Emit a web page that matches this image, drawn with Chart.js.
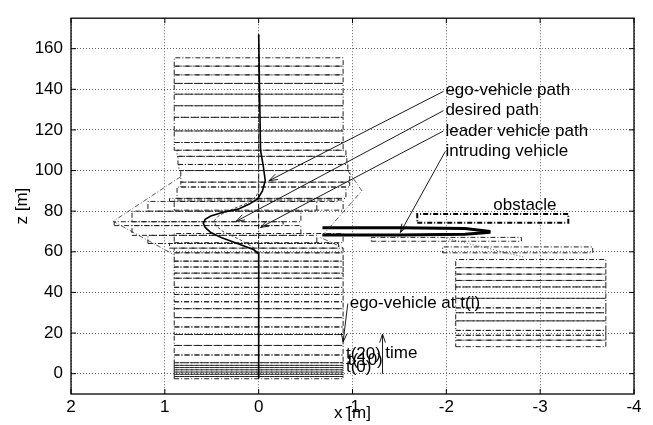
<!DOCTYPE html>
<html>
<head>
<meta charset="utf-8">
<script src="https://cdn.jsdelivr.net/npm/chart.js@4.4.1/dist/chart.umd.min.js"></script>
<style>
  body { margin: 0; background: #fff; }
  #wrap { width: 653px; height: 425px; }
</style>
</head>
<body>
<div id="wrap"><canvas id="myChart" width="653" height="425"></canvas></div>
<script>
// ticks
const xTicks = [2, 1, 0, -1, -2, -3, -4];
const zTicks = [0, 20, 40, 60, 80, 100, 120, 140, 160];

// paths (x lateral, z longitudinal)
const egoPathX = [0, 0, 0.05, 0.22, 0.4, 0.51, 0.57, 0.59, 0.57, 0.51, 0.38, 0.22, 0.1, 0.01, -0.04, -0.07, -0.05, -0.02, 0];
const egoPathZ = [-2, 59, 61, 64, 67, 69.5, 72, 74, 76, 77.6, 79.5, 81, 83.5, 86, 90, 95, 102, 110, 167];
const desiredPathX = [0, 0, 0.05, 0.2, 0.38, 0.46, 0.47, 0.42, 0.28, 0.12, 0.03, 0, 0];
const desiredPathZ = [-2, 58, 62, 66, 70, 73, 75.5, 78, 81, 84, 87, 90, 167];
const leaderPathX = [0, 0];
const leaderPathZ = [-2.5, 167];

// ego-vehicle outlines at t(i): box edges along z and box centre x
const egoEdgesZ = [-2.5, -1.4, -0.3, 0.8, 1.9, 3.0, 4.1, 5.4, 9.2, 13.9, 19.3, 23, 27.6, 32, 35.4, 39, 42.5, 47, 49.5, 52.5, 55.4, 59.5,
  61.8, 64.1, 68.1, 72.9, 74.8, 80, 84.8, 86.3, 91.9, 94.3, 100, 103, 107, 110, 113.8, 119.5, 126.2, 131.9, 137.6, 142.9, 147.1, 151.4, 155.5];
const egoCentreX = [0, 0, 0, 0, 0, 0, 0, 0, 0, 0, 0, 0, 0, 0, 0, 0, 0, 0, 0, 0, 0, 0,
  0.05, 0.28, 0.45, 0.64, 0.45, 0.28, 0.05, -0.03, -0.07, -0.07, -0.05, -0.04, -0.03,
  0, 0, 0, 0, 0, 0, 0, 0, 0];
const egoWidth = 1.8;

// leader vehicle outlines
const leaderX = [0, 0];
const leaderZ0 = [64.5, 80.5];
const leaderZ1 = [69, 85.5];

// swept outline of ego during the manoeuvre
const sweepLeftX = [0.83, 1.55, 0.9];
const sweepLeftZ = [97, 75, 58.5];
const sweepRightX = [-0.95, -1.1, -0.66, -0.9];
const sweepRightZ = [100, 90, 67, 62];

// intruding vehicle outlines
const intruderX = [-2.9, -2.9, -2.9, -2.9, -2.9, -2.9, -2.9, -2.9, -2.9, -2.9, -2.9, -2.9, -2.76, -2.0];
const intruderZ0 = [13.3, 16.5, 18.9, 21.3, 26, 30, 32.4, 37.1, 42.7, 45.9, 49, 52.2, 59.5, 65.2];
const intruderZ1 = [16.5, 18.9, 21.3, 26, 30, 32.4, 37.1, 42.7, 45.9, 49, 52.2, 56.2, 62.4, 67.1];
const intruderWidth = 1.6;
const intruderSweepX = [-1.97, -2.82];
const intruderSweepZ = [67, 57.5];
const cutInTopX = [-0.68, -1.5, -2.2, -2.47];
const cutInTopZ = [71.8, 71.8, 71.5, 70.0];
const cutInBottomX = [-0.68, -1.5, -2.2, -2.47];
const cutInBottomZ = [68.3, 68.3, 68.6, 69.6];

// obstacle
const obstacleX = [-1.69, -3.3];
const obstacleZ = [74.3, 78.6];

// annotations
const arrowFromX = [-1.97, -1.97, -1.97, -1.99, -0.95, -1.32];
const arrowFromZ = [139, 129.5, 119.5, 109.5, 34.5, 0];
const arrowToX = [-0.11, 0.24, -0.02, -1.51, -0.9, -1.32];
const arrowToZ = [95, 75, 72, 69.5, 15.7, 19.5];
const labelText = ['ego-vehicle path', 'desired path', 'leader vehicle path', 'intruding vehicle', 'obstacle',
  'ego-vehicle at t(i)', 'time', 't(20)', 't(10)', 't(0)'];
const labelX = [-1.99, -1.99, -1.99, -1.99, -2.5, -0.97, -1.35, -0.93, -0.95, -0.93];
const labelZ = [139.5, 129.5, 119.5, 109.5, 82.9, 34.8, 10, 9.5, 6.7, 2.9];

const FONT = '"Liberation Sans", Arial, sans-serif';
const dashDot = [5, 2, 1, 2];

function toPoints(xs, zs) {
  return xs.map((x, i) => ({ x: x, y: zs[i] }));
}
function box(cx, z0, z1, w) {
  return [
    { x: cx + w / 2, y: z0 }, { x: cx - w / 2, y: z0 },
    { x: cx - w / 2, y: z1 }, { x: cx + w / 2, y: z1 },
    { x: cx + w / 2, y: z0 }
  ];
}
function lineSet(data, color, width, dash) {
  return { data: data, borderColor: color, borderWidth: width, borderDash: dash || [],
    showLine: true, pointRadius: 0, fill: false, tension: 0 };
}

const datasets = [];
datasets.push(lineSet(toPoints(egoPathX, egoPathZ), '#000', 1.6));
datasets.push(lineSet(toPoints(desiredPathX, desiredPathZ), '#444', 1, [3, 2]));
datasets.push(lineSet(toPoints(leaderPathX, leaderPathZ), '#000', 1, dashDot));
for (let i = 0; i < egoCentreX.length; i++) {
  datasets.push(lineSet(box(egoCentreX[i], egoEdgesZ[i], egoEdgesZ[i + 1], egoWidth), '#222', 1, dashDot));
}
leaderX.forEach((cx, i) => {
  datasets.push(lineSet(box(cx, leaderZ0[i], leaderZ1[i], egoWidth), '#222', 1, dashDot));
});
datasets.push(lineSet(toPoints(sweepLeftX, sweepLeftZ), '#333', 0.8, dashDot));
datasets.push(lineSet(toPoints(sweepRightX, sweepRightZ), '#333', 0.8, dashDot));
intruderX.forEach((cx, i) => {
  datasets.push(lineSet(box(cx, intruderZ0[i], intruderZ1[i], intruderWidth), '#222', 1, dashDot));
});
datasets.push(lineSet(toPoints(intruderSweepX, intruderSweepZ), '#333', 0.8, [1, 2]));
datasets.push(lineSet(toPoints(cutInTopX, cutInTopZ), '#000', 3));
datasets.push(lineSet(toPoints(cutInBottomX, cutInBottomZ), '#000', 3));
datasets.push(lineSet(box((obstacleX[0] + obstacleX[1]) / 2, obstacleZ[0], obstacleZ[1], Math.abs(obstacleX[1] - obstacleX[0])), '#000', 2, dashDot));
arrowFromX.forEach((x, i) => {
  datasets.push(lineSet([{ x: x, y: arrowFromZ[i] }, { x: arrowToX[i], y: arrowToZ[i] }], '#000', 0.9));
});

// arrowheads and text labels
const annotations = {
  id: 'annotations',
  afterDatasetsDraw(chart) {
    const ctx = chart.ctx;
    const xs = chart.scales.x, ys = chart.scales.y;
    ctx.save();
    ctx.strokeStyle = '#000';
    ctx.lineWidth = 0.9;
    arrowFromX.forEach((x, i) => {
      const x1 = xs.getPixelForValue(x), y1 = ys.getPixelForValue(arrowFromZ[i]);
      const x2 = xs.getPixelForValue(arrowToX[i]), y2 = ys.getPixelForValue(arrowToZ[i]);
      const a = Math.atan2(y2 - y1, x2 - x1);
      const len = 9, spread = 0.33;
      ctx.beginPath();
      ctx.moveTo(x2 - len * Math.cos(a - spread), y2 - len * Math.sin(a - spread));
      ctx.lineTo(x2, y2);
      ctx.lineTo(x2 - len * Math.cos(a + spread), y2 - len * Math.sin(a + spread));
      ctx.stroke();
    });
    ctx.fillStyle = '#000';
    ctx.font = '17px ' + FONT;
    ctx.textAlign = 'left';
    ctx.textBaseline = 'middle';
    labelText.forEach((t, i) => {
      ctx.fillText(t, xs.getPixelForValue(labelX[i]), ys.getPixelForValue(labelZ[i]));
    });
    ctx.restore();
  }
};

// box round the plot with inward ticks
const frame = {
  id: 'frame',
  afterDraw(chart) {
    const { ctx, chartArea: a } = chart;
    const xs = chart.scales.x, ys = chart.scales.y;
    ctx.save();
    ctx.strokeStyle = '#000';
    ctx.lineWidth = 1.3;
    ctx.strokeRect(a.left, a.top, a.right - a.left, a.bottom - a.top);
    ctx.lineWidth = 1;
    ctx.beginPath();
    xTicks.forEach(v => {
      const p = xs.getPixelForValue(v);
      ctx.moveTo(p, a.bottom); ctx.lineTo(p, a.bottom - 5);
      ctx.moveTo(p, a.top); ctx.lineTo(p, a.top + 5);
    });
    zTicks.forEach(v => {
      const p = ys.getPixelForValue(v);
      ctx.moveTo(a.left, p); ctx.lineTo(a.left + 5, p);
      ctx.moveTo(a.right, p); ctx.lineTo(a.right - 5, p);
    });
    ctx.stroke();
    ctx.restore();
  }
};

const config = {
  type: 'scatter',
  data: { datasets: datasets },
  options: {
    responsive: false,
    animation: false,
    devicePixelRatio: 1,
    layout: { padding: { top: 7, right: 19, left: 0, bottom: 0 } },
    plugins: { legend: { display: false }, tooltip: { enabled: false } },
    scales: {
      x: {
        type: 'linear', reverse: true, min: -4, max: 2,
        afterBuildTicks: s => { s.ticks = xTicks.map(v => ({ value: v })); },
        afterFit: s => { s.height = 31; },
        grid: { color: 'rgba(0,0,0,0.75)', lineWidth: 0.8, drawTicks: false },
        border: { display: false, dash: [1, 2] },
        ticks: { color: '#000', padding: 3, font: { family: FONT, size: 17 } },
        title: { display: true, text: 'x [m]', color: '#000', padding: { top: 0, bottom: 1 }, font: { family: FONT, size: 17 } }
      },
      y: {
        type: 'linear', min: -10, max: 175,
        afterBuildTicks: s => { s.ticks = zTicks.map(v => ({ value: v })); },
        afterFit: s => { s.width = 71; },
        grid: { color: 'rgba(0,0,0,0.75)', lineWidth: 0.8, drawTicks: false },
        border: { display: false, dash: [1, 2] },
        ticks: { color: '#000', padding: 8, font: { family: FONT, size: 17 } },
        title: { display: true, text: 'z [m]', color: '#000', padding: { top: 12, bottom: 0 }, font: { family: FONT, size: 17 } }
      }
    }
  },
  plugins: [annotations, frame]
};

const myChart = new Chart(document.getElementById('myChart'), config);
</script>
</body>
</html>
